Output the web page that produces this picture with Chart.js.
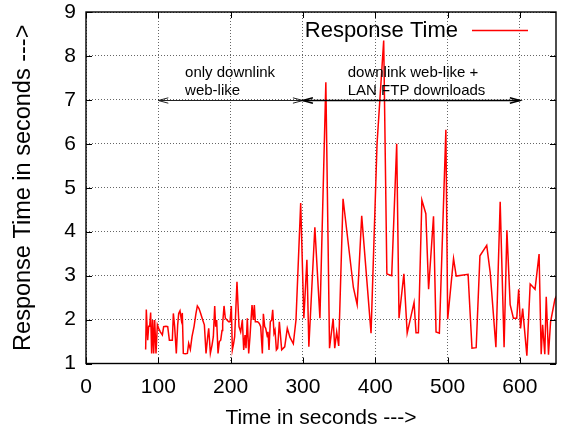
<!DOCTYPE html>
<html>
<head>
<meta charset="utf-8">
<script src="https://cdn.jsdelivr.net/npm/chart.js@4.4.1/dist/chart.umd.min.js"></script>
<style>
  html, body { margin: 0; padding: 0; background: #fff; }
  #c { display: block; }
</style>
</head>
<body>
<canvas id="c" width="563" height="434"></canvas>
<script>
// Sample times (s) and measured response times (s)
const time = [
  82.5, 83.4, 85.3, 86.7, 88.1, 89.4, 90.8, 92.2, 93.6, 95.0, 96.8, 98.7, 100.5, 102.8, 105.6, 107.4,
  110.6, 113.0, 115.3, 117.6, 119.4, 120.8, 122.6, 124.9, 126.8, 128.2, 130.0, 131.9, 133.2, 134.6,
  137.4, 140.2, 142.0, 144.3, 146.6, 149.4, 152.1, 154.0, 156.3, 158.6, 161.4, 163.7, 166.0, 168.3,
  169.7, 172.0, 174.3, 176.1, 178.0, 179.3, 180.7, 182.6, 184.4, 186.3, 188.1, 189.0, 190.9, 192.7,
  195.0, 197.3, 199.2, 201.0, 202.4, 204.2, 205.6, 208.8, 211.6, 213.9, 216.2, 218.1, 219.9, 221.3,
  223.1, 225.0, 226.8, 228.2, 229.6, 231.4, 232.8, 234.2, 237.4, 239.7, 241.6, 243.9, 245.3, 247.1,
  248.5, 250.8, 251.7, 253.1, 254.9, 256.8, 258.2, 260.0, 261.4, 263.3, 265.1, 267.4, 270.6, 272.9,
  274.8, 278.4, 282.0, 286.7, 290.4, 296.9,
  301.3, 305.5, 308.2, 316.5, 323.5, 331.7, 336.8, 341.8, 344.0, 346.7, 349.5, 355.5, 369.8, 375.0,
  381.3, 394.2, 402.5, 411.7, 416.1, 422.8, 429.7, 432.9, 439.6, 444.2, 453.7, 456.4, 459.7, 464.5,
  470.0, 473.8, 480.6, 484.1, 488.7, 497.7, 500.2, 508.3, 512.0, 528.4, 533.8, 539.6, 544.8, 554.2,
  559.0, 566.9, 572.8, 578.2, 582.1, 586.6, 591.1, 595.7, 598.4, 601.0, 603.9, 609.7, 614.3, 621.0,
  626.6, 629.5, 631.5, 634.5, 636.5, 639.6, 642.5, 648.5, 651.0
];
const responseTime = [
  1.32, 2.23, 1.53, 1.85, 1.85, 2.16, 1.23, 1.99, 1.23, 1.99, 1.23, 1.88, 1.80, 1.72, 1.65, 1.84,
  1.85, 1.84, 1.53, 1.53, 1.53, 2.14, 1.84, 1.23, 1.88, 2.14, 2.20, 1.99, 2.15, 1.23,
  1.22, 1.23, 1.46, 1.32, 1.61, 1.84, 2.14, 2.31, 2.25, 2.14, 1.99, 1.88, 1.23, 1.61,
  1.80, 1.23, 1.42, 1.61, 2.31, 1.84, 1.99, 1.23, 1.50, 1.53, 1.75, 1.91, 2.31, 2.03,
  1.99, 1.95, 1.95, 2.31, 1.31, 1.46, 1.61, 2.86, 1.84, 1.72, 1.99, 1.31, 1.65, 1.35,
  2.03, 1.23, 1.61, 1.99, 2.33, 1.99, 2.33, 1.95, 1.95, 1.91, 1.84, 1.23, 2.13, 1.84,
  1.80, 1.61, 1.72, 1.31, 1.95, 1.99, 2.22, 1.69, 1.76, 1.31, 1.35, 1.95, 1.31, 1.35,
  1.38, 1.80, 1.60, 1.45, 1.99, 4.65,
  2.03, 3.36, 1.38, 4.10, 2.03, 7.40, 1.35, 2.02, 1.35, 1.72, 1.40, 4.75, 2.73, 2.34,
  4.36, 1.69, 6.00, 8.35, 3.04, 3.00, 6.00, 2.03, 3.04, 1.69, 2.39, 1.70, 1.70, 4.72,
  4.41, 2.69, 4.35, 1.72, 1.69, 6.32, 2.01, 3.39, 2.99, 3.03, 1.35, 1.36, 3.45, 3.69,
  3.07, 1.37, 4.68, 1.37, 4.03, 2.34, 2.03, 2.03, 2.69, 1.80, 2.25, 1.18, 2.81, 2.69,
  3.49, 1.21, 1.88, 1.21, 2.52, 1.20, 1.95, 2.46, 2.55
];
const seriesLabel = 'Response Time';
const xTicks = [0, 100, 200, 300, 400, 500, 600];
const yTicks = [1, 2, 3, 4, 5, 6, 7, 8, 9];

// Traffic phases: start/end time, level of the span arrow, description
const phaseStart = [100, 300];
const phaseEnd = [300, 600];
const phaseLevel = [7, 7];
const phaseText = [['only downlink', 'web-like'], ['downlink web-like +', 'LAN FTP downloads']];
const phaseTextTime = [137, 362];

const FONT = "'Liberation Sans', Arial, Helvetica, sans-serif";

function arrowHead(ctx, x, y, dir) {
  const len = 10, half = 2.7;
  ctx.beginPath();
  ctx.moveTo(x - dir * len, y - half);
  ctx.lineTo(x, y);
  ctx.lineTo(x - dir * len, y + half);
  ctx.stroke();
}

const frame = {
  id: 'frame',
  afterDatasetsDraw(chart) {
    const { ctx, chartArea: a, scales: { x, y } } = chart;
    ctx.save();
    // inward tick marks on all four sides
    ctx.strokeStyle = '#000';
    ctx.lineWidth = 1;
    const tl = 6;
    xTicks.forEach(v => {
      const px = Math.round(x.getPixelForValue(v)) + 0.5;
      ctx.beginPath();
      ctx.moveTo(px, a.bottom); ctx.lineTo(px, a.bottom - tl);
      ctx.moveTo(px, a.top); ctx.lineTo(px, a.top + tl);
      ctx.stroke();
    });
    yTicks.forEach(v => {
      const py = Math.round(y.getPixelForValue(v)) + 0.5;
      ctx.beginPath();
      ctx.moveTo(a.left, py); ctx.lineTo(a.left + tl, py);
      ctx.moveTo(a.right, py); ctx.lineTo(a.right - tl, py);
      ctx.stroke();
    });
    // plot border
    ctx.lineWidth = 1.4;
    ctx.strokeRect(a.left, a.top, a.right - a.left, a.bottom - a.top);

    // phase span arrows and their descriptions
    phaseStart.forEach((s, i) => {
      const x0 = x.getPixelForValue(s), x1 = x.getPixelForValue(phaseEnd[i]);
      const py = Math.round(y.getPixelForValue(phaseLevel[i])) + 0.5;
      ctx.strokeStyle = i === 0 ? '#222' : '#000';
      ctx.lineWidth = i === 0 ? 1 : 1.6;
      ctx.beginPath(); ctx.moveTo(x0, py); ctx.lineTo(x1, py); ctx.stroke();
      arrowHead(ctx, x0, py, -1);
      arrowHead(ctx, x1, py, 1);
      ctx.fillStyle = '#000';
      ctx.font = '15px ' + FONT;
      ctx.textAlign = 'left';
      ctx.textBaseline = 'middle';
      const tx = x.getPixelForValue(phaseTextTime[i]);
      phaseText[i].forEach((line, k) => ctx.fillText(line, tx, py - 28 + k * 18));
    });

    // key
    ctx.font = '22px ' + FONT;
    ctx.textAlign = 'right';
    ctx.textBaseline = 'middle';
    ctx.fillStyle = '#000';
    ctx.fillText(chart.data.datasets[0].label, a.right - 98, a.top + 19);
    ctx.strokeStyle = chart.data.datasets[0].borderColor;
    ctx.lineWidth = 1.5;
    ctx.beginPath();
    ctx.moveTo(a.right - 84, a.top + 18.5);
    ctx.lineTo(a.right - 28, a.top + 18.5);
    ctx.stroke();
    ctx.restore();
  }
};

new Chart(document.getElementById('c'), {
  type: 'line',
  data: {
    datasets: [{
      label: seriesLabel,
      data: time.map((t, i) => ({ x: t, y: responseTime[i] })),
      borderColor: '#ff0000',
      borderWidth: 1.5,
      pointRadius: 0,
      tension: 0,
      fill: false
    }]
  },
  options: {
    responsive: false,
    animation: false,
    events: [],
    layout: { padding: { left: 0, right: 7, top: 12, bottom: 0 } },
    plugins: { legend: { display: false }, tooltip: { enabled: false } },
    scales: {
      x: {
        type: 'linear',
        min: 0, max: 650,
        afterBuildTicks: s => { s.ticks = xTicks.map(v => ({ value: v })); },
        afterFit: s => { s.height = 70.5; s.paddingLeft = 0; s.paddingRight = 0; },
        grid: { color: 'rgba(0,0,0,0.6)', lineWidth: 1, drawTicks: false },
        border: { display: false, dash: [1, 2] },
        ticks: { color: '#000', font: { family: FONT, size: 21 }, padding: 11, maxRotation: 0 },
        title: { display: true, text: 'Time in seconds --->', color: '#000',
                 font: { family: FONT, size: 21 }, padding: { top: 0, bottom: 3 } }
      },
      y: {
        type: 'linear',
        min: 1, max: 9,
        afterBuildTicks: s => { s.ticks = yTicks.map(v => ({ value: v })); },
        afterFit: s => { s.width = 86; s.paddingTop = 0; s.paddingBottom = 0; },
        grid: { color: 'rgba(0,0,0,0.6)', lineWidth: 1, drawTicks: false },
        border: { display: false, dash: [1, 2] },
        ticks: { color: '#000', font: { family: FONT, size: 21 }, padding: 10 },
        title: { display: true, text: 'Response Time in seconds --->', color: '#000',
                 font: { family: FONT, size: 23.5 }, padding: { top: 9, bottom: 0 } }
      }
    }
  },
  plugins: [frame]
});
</script>
</body>
</html>
